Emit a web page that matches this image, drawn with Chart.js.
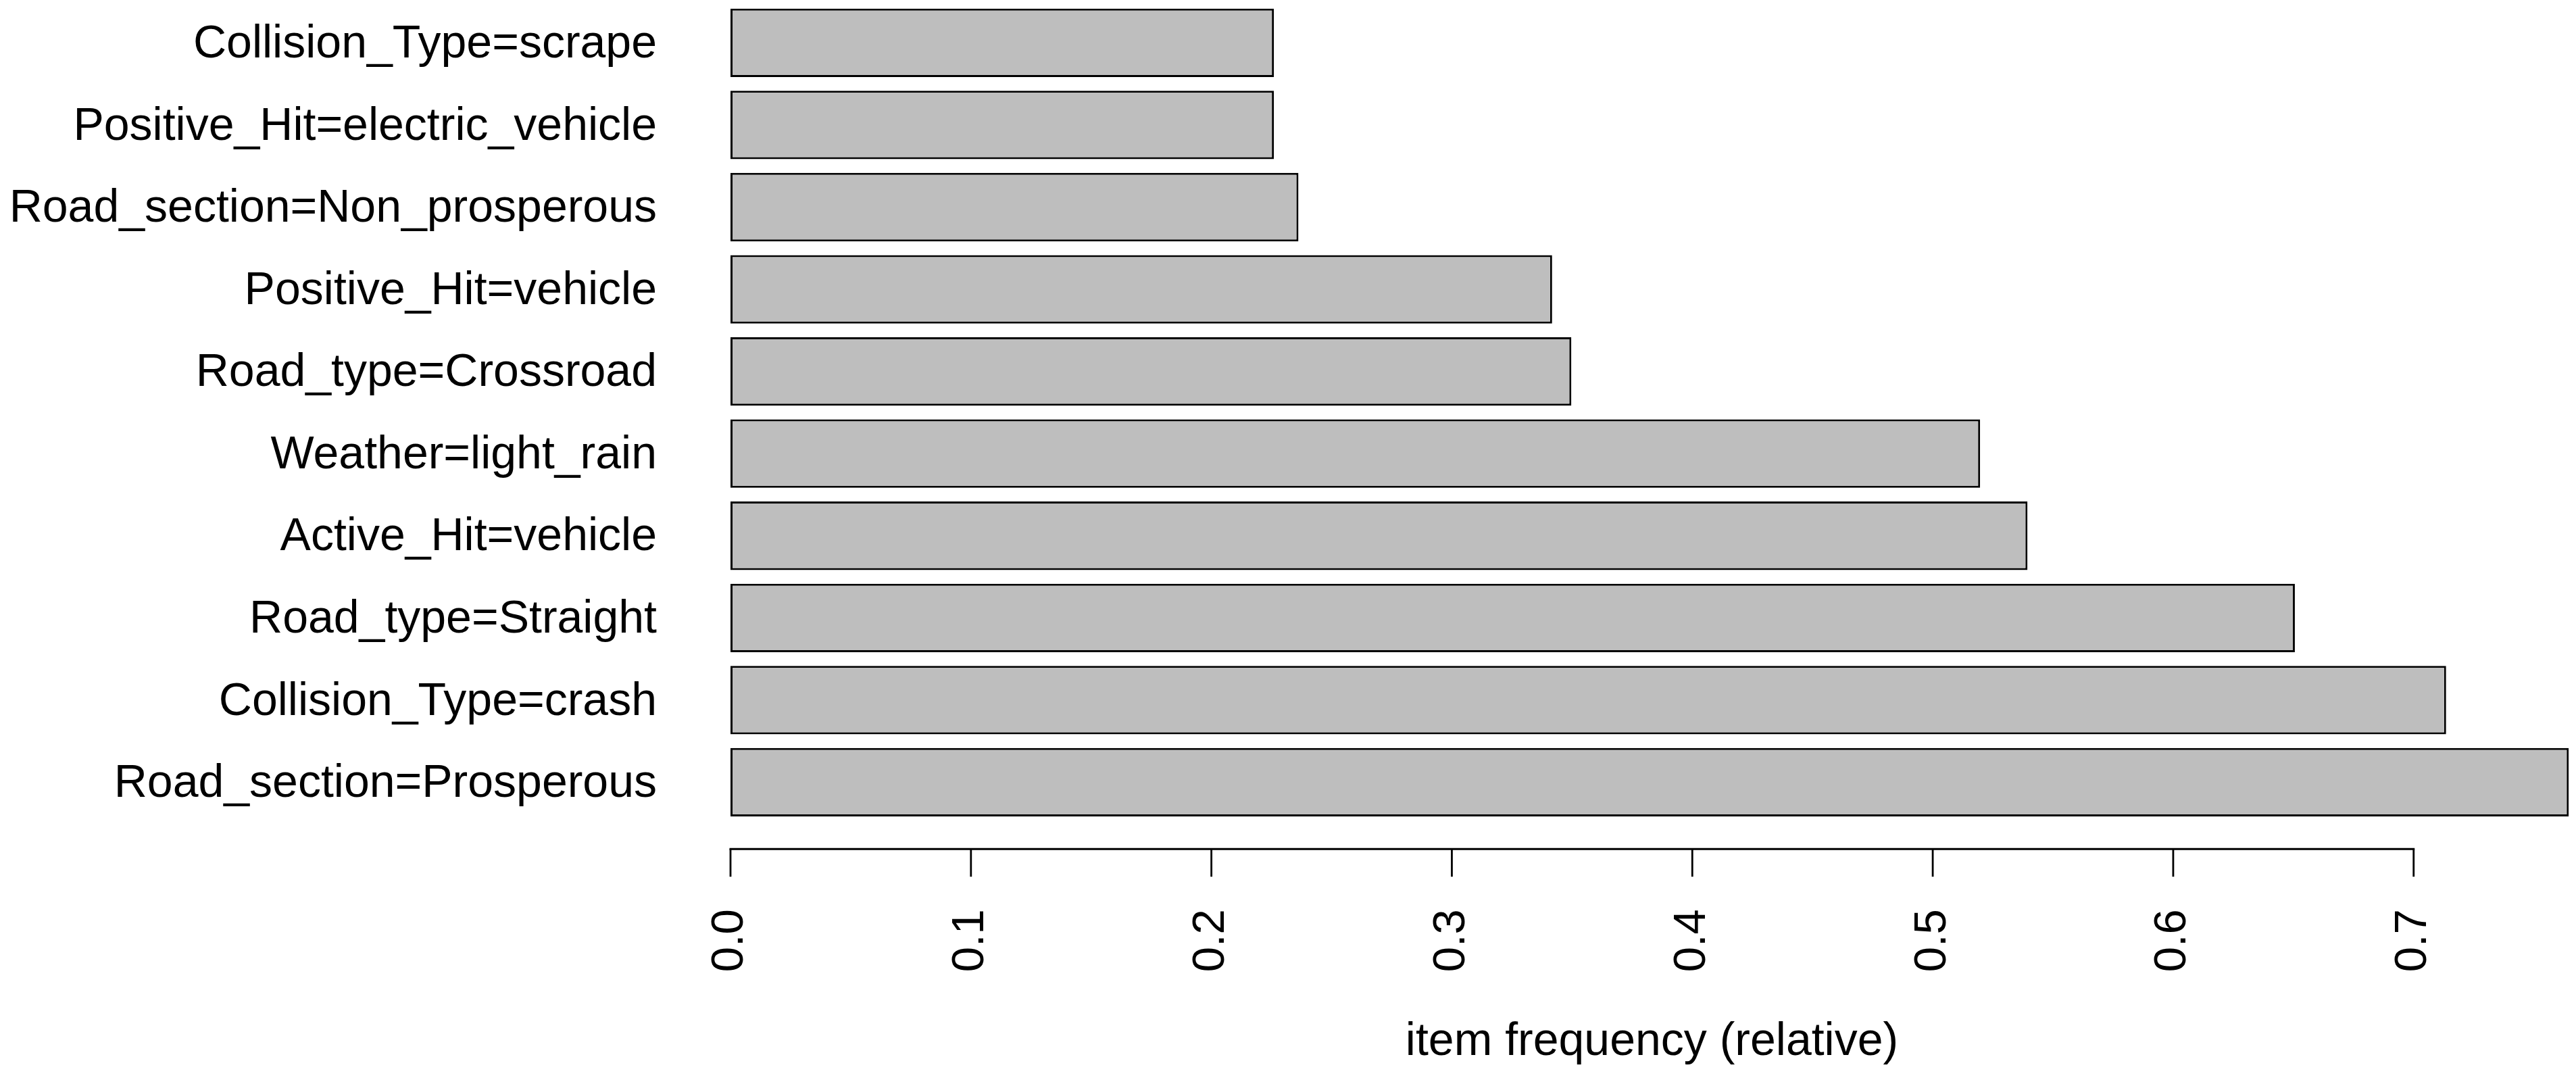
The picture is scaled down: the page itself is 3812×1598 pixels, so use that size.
<!DOCTYPE html>
<html>
<head>
<meta charset="utf-8">
<script src="https://cdn.jsdelivr.net/npm/chart.js@4/dist/chart.umd.min.js"></script>
<style>
  html, body { margin: 0; padding: 0; background: #ffffff; }
  canvas { display: block; }
</style>
</head>
<body>
<canvas id="c" width="3812" height="1598"></canvas>
<script>
const categories = [
  'Collision_Type=scrape',
  'Positive_Hit=electric_vehicle',
  'Road_section=Non_prosperous',
  'Positive_Hit=vehicle',
  'Road_type=Crossroad',
  'Weather=light_rain',
  'Active_Hit=vehicle',
  'Road_type=Straight',
  'Collision_Type=crash',
  'Road_section=Prosperous'
];
const frequencies = [0.2260, 0.2260, 0.2362, 0.3417, 0.3497, 0.5197, 0.5394, 0.6506, 0.7135, 0.7645];
const xTickValues = [0.0, 0.1, 0.2, 0.3, 0.4, 0.5, 0.6, 0.7];
const xTickLabels = ['0.0', '0.1', '0.2', '0.3', '0.4', '0.5', '0.6', '0.7'];
const xTitle = 'item frequency (relative)';

const FONT = '"Liberation Sans", Arial, Helvetica, sans-serif';

const rAxisPlugin = {
  id: 'rAxis',
  afterDraw(chart) {
    const xs = chart.scales.x;
    const ctx = chart.ctx;
    const y0 = xs.top + 38;
    const x0 = xs.getPixelForValue(xTickValues[0]);
    const x1 = xs.getPixelForValue(xTickValues[xTickValues.length - 1]);
    ctx.save();
    ctx.strokeStyle = '#000000';
    ctx.lineWidth = 3;
    ctx.lineCap = 'butt';
    ctx.beginPath();
    ctx.moveTo(x0 - 1.5, y0);
    ctx.lineTo(x1 + 1.5, y0);
    ctx.stroke();
    ctx.lineWidth = 2.8;
    for (const v of xTickValues) {
      const px = xs.getPixelForValue(v);
      ctx.beginPath();
      ctx.moveTo(px, y0);
      ctx.lineTo(px, y0 + 41);
      ctx.stroke();
    }
    ctx.restore();
  }
};

new Chart(document.getElementById('c'), {
  type: 'bar',
  data: {
    labels: categories,
    datasets: [{
      data: frequencies,
      backgroundColor: '#BEBEBE',
      borderColor: '#000000',
      borderWidth: 3,
      borderSkipped: false,
      categoryPercentage: 1.0,
      barPercentage: 0.8333
    }]
  },
  options: {
    indexAxis: 'y',
    responsive: false,
    devicePixelRatio: 1,
    animation: false,
    events: [],
    layout: { padding: { top: 2.6, right: 4, bottom: 0, left: 0 } },
    plugins: {
      legend: { display: false },
      tooltip: { enabled: false },
      title: { display: false }
    },
    scales: {
      x: {
        type: 'linear',
        min: 0,
        max: 0.7664,
        grid: { display: false },
        border: { display: false },
        afterBuildTicks(scale) {
          scale.ticks = xTickValues.map(v => ({ value: v }));
        },
        afterFit(scale) {
          scale.height = 379.8;
          scale.paddingLeft = 0;
          scale.paddingRight = 0;
        },
        ticks: {
          autoSkip: false,
          includeBounds: false,
          minRotation: 90,
          maxRotation: 90,
          padding: 119,
          color: '#000000',
          font: { family: FONT, size: 67 },
          callback: (v, i) => xTickLabels[i]
        },
        title: {
          display: true,
          text: xTitle,
          color: '#000000',
          font: { family: FONT, size: 68 },
          padding: { top: 0, bottom: 15 }
        }
      },
      y: {
        type: 'category',
        grid: { display: false, drawTicks: false },
        border: { display: false },
        afterFit(scale) {
          scale.width = 1081;
          scale.paddingTop = 0;
          scale.paddingBottom = 0;
        },
        ticks: {
          autoSkip: false,
          padding: 109,
          labelOffset: 3,
          color: '#000000',
          font: { family: FONT, size: 68 }
        }
      }
    }
  },
  plugins: [rAxisPlugin]
});
</script>
</body>
</html>
